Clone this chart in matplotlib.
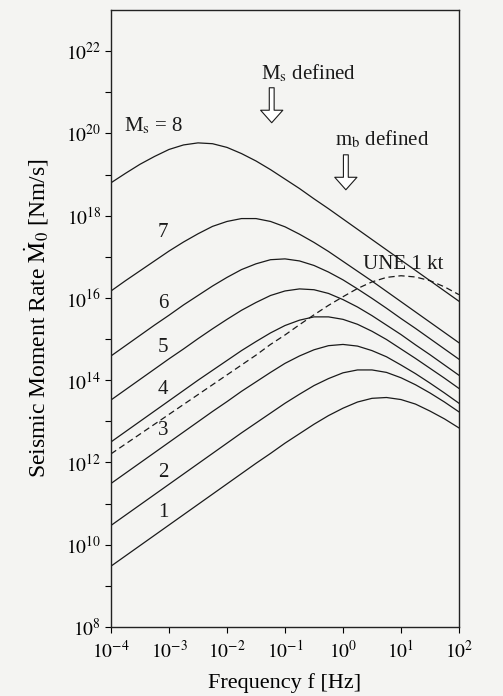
import numpy as np
import matplotlib
matplotlib.use("Agg")
import matplotlib.pyplot as plt
from matplotlib.ticker import FixedLocator, NullFormatter

plt.rcParams['font.family'] = ['Liberation Serif', 'DejaVu Serif']
plt.rcParams['mathtext.fontset'] = 'stix'

# ---- data (log10 values) ----
log_freq = [-4.0, -3.75, -3.5, -3.25, -3.0, -2.75, -2.5, -2.25, -2.0, -1.75,
            -1.5, -1.25, -1.0, -0.75, -0.5, -0.25, 0.0, 0.25, 0.5, 0.75,
            1.0, 1.25, 1.5, 1.75, 2.0]

ms8 = [18.80, 19.03, 19.25, 19.44, 19.61, 19.72, 19.77, 19.75, 19.66, 19.51,
       19.33, 19.12, 18.89, 18.66, 18.41, 18.17, 17.92, 17.67, 17.42, 17.17,
       16.92, 16.67, 16.42, 16.17, 15.92]
ms7 = [16.17, 16.42, 16.66, 16.90, 17.14, 17.36, 17.56, 17.74, 17.86, 17.93,
       17.93, 17.86, 17.73, 17.55, 17.35, 17.13, 16.89, 16.65, 16.41, 16.16,
       15.91, 15.66, 15.41, 15.16, 14.91]
ms6 = [14.59, 14.84, 15.09, 15.34, 15.58, 15.83, 16.06, 16.29, 16.50, 16.69,
       16.83, 16.93, 16.95, 16.90, 16.79, 16.63, 16.44, 16.22, 15.99, 15.75,
       15.50, 15.26, 15.01, 14.76, 14.51]
ms5 = [13.52, 13.77, 14.02, 14.27, 14.52, 14.76, 15.01, 15.25, 15.48, 15.70,
       15.89, 16.06, 16.17, 16.22, 16.20, 16.11, 15.96, 15.78, 15.57, 15.34,
       15.11, 14.86, 14.62, 14.37, 14.12]
ms4 = [12.50, 12.75, 13.00, 13.25, 13.50, 13.75, 14.00, 14.24, 14.48, 14.72,
       14.94, 15.15, 15.33, 15.46, 15.54, 15.54, 15.48, 15.36, 15.19, 14.99,
       14.76, 14.53, 14.29, 14.05, 13.80]
ms3 = [11.49, 11.74, 11.99, 12.24, 12.49, 12.74, 12.99, 13.24, 13.48, 13.73,
       13.96, 14.19, 14.41, 14.59, 14.74, 14.84, 14.87, 14.83, 14.72, 14.57,
       14.37, 14.16, 13.93, 13.69, 13.44]
ms2 = [10.47, 10.72, 10.97, 11.22, 11.47, 11.72, 11.97, 12.22, 12.47, 12.72,
       12.96, 13.20, 13.44, 13.66, 13.87, 14.04, 14.18, 14.25, 14.25, 14.19,
       14.06, 13.89, 13.69, 13.47, 13.23]
ms1 = [9.48, 9.73, 9.98, 10.23, 10.48, 10.73, 10.98, 11.23, 11.48, 11.73,
       11.98, 12.22, 12.47, 12.70, 12.93, 13.14, 13.32, 13.47, 13.56, 13.58,
       13.53, 13.42, 13.25, 13.06, 12.84]
une_1kt = [12.21, 12.45, 12.69, 12.93, 13.17, 13.41, 13.65, 13.89, 14.13, 14.37,
           14.61, 14.87, 15.10, 15.35, 15.59, 15.82, 16.03, 16.23, 16.39, 16.50,
           16.54, 16.51, 16.42, 16.27, 16.08]

curves = [ms8, ms7, ms6, ms5, ms4, ms3, ms2, ms1]
curve_labels = [r'M$_\mathrm{s}$ = 8', '7', '6', '5', '4', '3', '2', '1']
# label anchor positions (frequency Hz, log10 moment rate)
label_freq = [1.7e-4, 7.9e-4, 7.9e-4, 7.9e-4, 7.9e-4, 7.9e-4, 7.9e-4, 7.9e-4]
label_logm = [20.17, 17.59, 15.86, 14.79, 13.77, 12.78, 11.75, 10.78]

x_ticks = [-4, -3, -2, -1, 0, 1, 2]
y_major = [8, 10, 12, 14, 16, 18, 20, 22]
y_minor = [9, 11, 13, 15, 17, 19, 21]

# ---- figure ----
bg = '#f4f4f2'
ink = '#1a1a1a'
fig = plt.figure(figsize=(5.03, 6.96), dpi=100, facecolor=bg)
ax = fig.add_axes([0.2207, 0.0991, 0.6918, 0.8865], facecolor=bg)

f = 10.0 ** np.array(log_freq)
for vals in curves:
    ax.plot(f, 10.0 ** np.array(vals), color=ink, lw=0.9)
ax.plot(f, 10.0 ** np.array(une_1kt), color=ink, lw=0.9, dashes=(5, 3))

ax.set_xscale('log')
ax.set_yscale('log')
ax.set_xlim(1e-4, 1e2)
ax.set_ylim(1e8, 1e23)

ax.xaxis.set_major_locator(FixedLocator([10.0 ** v for v in x_ticks]))
ax.xaxis.set_minor_locator(FixedLocator([]))
ax.set_xticklabels([r'$10^{%d}$' % v for v in x_ticks])
ax.yaxis.set_major_locator(FixedLocator([10.0 ** v for v in y_major]))
ax.yaxis.set_minor_locator(FixedLocator([10.0 ** v for v in y_minor]))
ax.yaxis.set_minor_formatter(NullFormatter())
ax.set_yticklabels([r'$10^{%d}$' % v for v in y_major])

ax.tick_params(axis='both', which='both', direction='out', length=4,
               width=0.8, labelsize=14, top=False, right=False)
ax.tick_params(axis='x', pad=5)
ax.tick_params(axis='y', pad=3)
for s in ax.spines.values():
    s.set_linewidth(1.0)
    s.set_color('#222222')

ax.set_xlabel('Frequency f [Hz]', fontsize=16, labelpad=8)
ax.set_ylabel(r'Seismic Moment Rate $\dot{\mathrm{M}}_0$ [Nm/s]',
              fontsize=17, labelpad=11)

# curve labels
for i, lab in enumerate(curve_labels):
    ax.text(label_freq[i], 10.0 ** label_logm[i], lab, fontsize=15,
            ha='left' if i == 0 else 'center', va='center', color=ink)

ax.text(2.2, 10.0 ** 16.81, 'UNE 1 kt', fontsize=15, ha='left', va='center',
        color=ink)

# "defined" annotations with hollow arrows
ax.text(0.038, 10.0 ** 21.45, r'M$_\mathrm{s}$ defined', fontsize=15,
        ha='left', va='center', color=ink)
ax.text(0.72, 10.0 ** 19.85, r'm$_\mathrm{b}$ defined', fontsize=15,
        ha='left', va='center', color=ink)

arrow_style = dict(arrowstyle='simple,head_length=0.9,head_width=1.6,tail_width=0.35',
                   fc='white', ec=ink, lw=0.8, shrinkA=0, shrinkB=0)
ax.annotate('', xy=(0.059, 10.0 ** 20.26), xytext=(0.059, 10.0 ** 21.11),
            arrowprops=arrow_style)
ax.annotate('', xy=(1.12, 10.0 ** 18.63), xytext=(1.12, 10.0 ** 19.48),
            arrowprops=arrow_style)

fig.savefig('out.png', dpi=100, facecolor=bg)
